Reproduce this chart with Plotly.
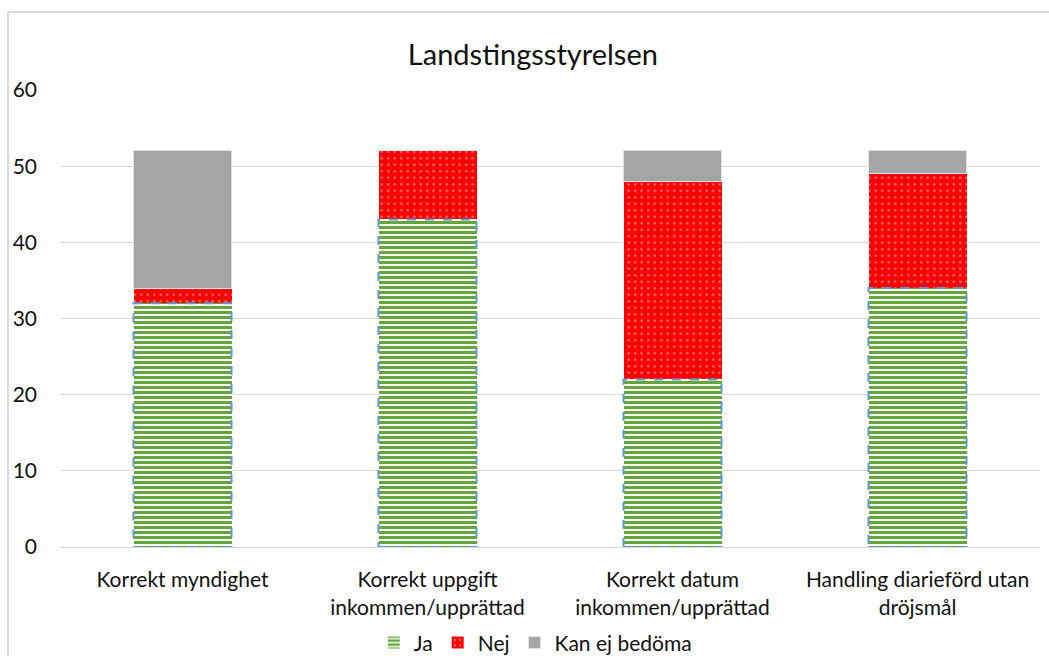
import plotly.graph_objects as go

categories = ["Korrekt myndighet", "Korrekt uppgift<br>inkommen/upprättad",
              "Korrekt datum<br>inkommen/upprättad", "Handling diarieförd utan<br>dröjsmål"]
ja = [32, 43, 22, 34]
nej = [2, 9, 26, 15]
kan_ej = [18, 0, 4, 3]
title = "Landstingsstyrelsen"
yticks = [0, 10, 20, 30, 40, 50, 60]

FONT = "Lato, 'Open Sans', sans-serif"
BW = 0.4
TXT = "#111111"

fig = go.Figure()
fig.add_trace(go.Bar(
    x=categories, y=ja, name="Ja", width=BW,
    marker=dict(color="white", line=dict(width=0),
                pattern=dict(shape="-", fgcolor="#65a63c", bgcolor="white", fgopacity=1,
                             size=5, solidity=0.62)),
))
fig.add_trace(go.Bar(
    x=categories, y=nej, name="Nej", width=BW,
    marker=dict(color="#ff0000", line=dict(width=0),
                pattern=dict(shape=".", fgcolor="white", bgcolor="#ff0000", size=6.5, solidity=0.12)),
))
fig.add_trace(go.Bar(
    x=categories, y=kan_ej, name="Kan ej bedöma", width=BW,
    marker=dict(color="#a5a5a5", line=dict(width=1, color="#e0e0e0")),
))

shapes = []
for i, v in enumerate(ja):
    shapes.append(dict(type="rect", xref="x", yref="y", x0=i - BW / 2, x1=i + BW / 2, y0=0, y1=v,
                       line=dict(color="#5b9bd5", width=2, dash="dash"), layer="above"))
# chart frame
fl, ft = (8 - 60) / 980, 1 + (90 - 12) / 457
shapes.append(dict(type="line", xref="paper", yref="paper", x0=fl, x1=fl, y0=-0.3, y1=ft,
                   line=dict(color="#d9d9d9", width=2)))
shapes.append(dict(type="line", xref="paper", yref="paper", x0=fl, x1=1.1, y0=ft, y1=ft,
                   line=dict(color="#d9d9d9", width=2)))

fig.update_layout(
    barmode="stack",
    width=1049, height=656,
    margin=dict(l=60, r=9, t=90, b=109, autoexpand=False),
    paper_bgcolor="white", plot_bgcolor="white",
    font=dict(family=FONT, size=21, color=TXT),
    title=dict(text=title, x=0.508, xanchor="center", y=1 - 55 / 656, yanchor="middle",
               font=dict(family=FONT, size=29, color=TXT)),
    legend=dict(orientation="h", x=0.485, xanchor="center", y=-0.21, yanchor="middle",
                font=dict(family=FONT, size=21, color=TXT), traceorder="normal", itemwidth=30),
    shapes=shapes,
    showlegend=True,
)
fig.update_yaxes(range=[0, 60], tickvals=yticks, showgrid=True, gridcolor="#d9d9d9", gridwidth=1,
                 zeroline=False, showline=False, ticks="", ticklabelstandoff=22, automargin=False,
                 tickfont=dict(family=FONT, size=21, color=TXT))
fig.update_xaxes(showline=True, linecolor="#d9d9d9", linewidth=1, ticks="", automargin=False,
                 ticklabelstandoff=14,
                 tickfont=dict(family=FONT, size=21, color=TXT))

fig.write_html("out.html")
